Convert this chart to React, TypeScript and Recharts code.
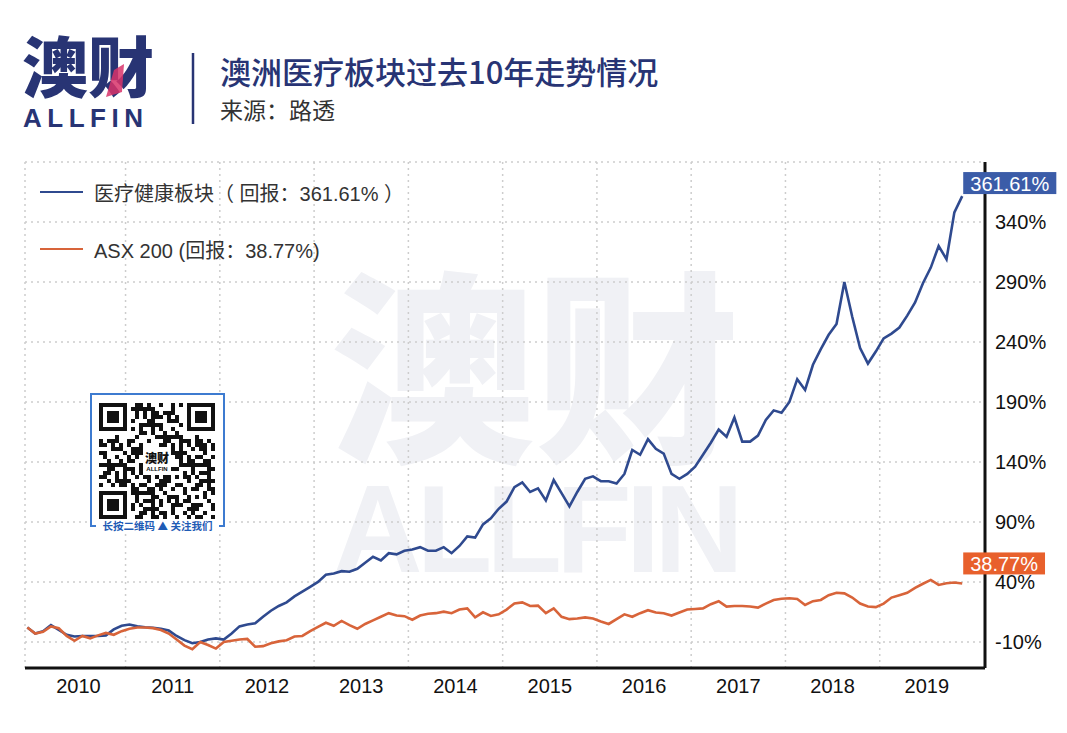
import React from 'react';
import { LineChart, Line, XAxis, YAxis, CartesianGrid, ReferenceLine, LabelList } from 'recharts';

// monthly cumulative return (%), Jan 2010 → Dec 2019
const healthcare = [
  2, -3, -1, 4, 0, -4, -5.5, -5, -5, -5, -4.5, 0.5,
  3.5, 4.5, 3, 2.2, 1.8, 1, -0.5, -5, -8.5, -11, -10, -8,
  -7, -8, -3, 3, 4.5, 5.5, 11, 16, 20, 23, 28, 32,
  36, 40, 46, 47, 49, 48.5, 51, 56, 61, 58, 64, 63,
  66, 67, 69, 66, 66, 69, 64, 70, 78, 77, 88, 93,
  101, 107, 119, 123, 115, 118, 108, 125, 114, 103, 115, 126,
  128, 124, 124, 122, 130, 150, 146, 159, 151, 147, 130, 126,
  130, 136, 146, 156, 167, 161, 177, 157, 157, 162, 175, 183,
  181, 190, 209, 200, 221, 234, 246, 255, 290, 261, 235, 222,
  232, 243, 247, 252, 262, 273, 289, 302, 320, 309, 348, 361.61,
];
const asx200 = [
  2, -3, -1.5, 3, 1.4, -5, -9, -5, -7, -4.5, -2.5, -4,
  -1, 1, 2, 2, 1.5, 0, -3, -8, -13, -16, -10, -12.5,
  -15.5, -10, -9, -8, -7.5, -14, -13.5, -11, -9.5, -8.5, -5.5, -5,
  -1, 2.5, 6, 3.5, 7.5, 4, 1, 5, 8, 11, 14, 12,
  11.5, 8.5, 12, 13.5, 14, 15.3, 14, 17, 18, 10.6, 14.7, 11.7,
  13, 17, 22, 23, 20, 20.3, 14, 18, 11, 9, 9.5, 10.5,
  9.5, 7, 5, 9, 13, 11, 14, 16.5, 14.5, 14, 12, 14.5,
  17, 17.5, 18, 21.5, 24, 19.5, 20, 20, 19.5, 18.6, 22, 25,
  26, 26.4, 25.8, 20.8, 24, 25, 29, 31, 30.5, 27, 22, 19.5,
  19, 22, 27, 29, 31, 35, 38.5, 41.7, 37.5, 39, 39.5, 38.77,
];

const years = ['2010', '2011', '2012', '2013', '2014', '2015', '2016', '2017', '2018', '2019'];
const yearMid = [6.5, 18.5, 30.5, 42.5, 54.5, 66.5, 78.5, 90.5, 102.5, 114.5];
const yearStart = [12.5, 24.5, 36.5, 48.5, 60.5, 72.5, 84.5, 96.5, 108.5];
const yTicks = [-10, 40, 90, 140, 190, 240, 290, 340, 390];

const seriesNames = ['医疗健康板块（ 回报：361.61% ）', 'ASX 200 (回报：38.77%)'];
const endLabels = ['361.61%', '38.77%'];

const data = healthcare.map((v, i) => ({ t: i, hc: v, asx: asx200[i] }));
const last = data.length - 1;

const BLUE = '#2f4a8f';
const ORANGE = '#d8643a';
const NAVY = '#283474';
const FONT = '"Liberation Sans", "Noto Sans CJK SC", sans-serif';
const CJK = '"Noto Sans CJK SC", sans-serif';
const X_MIN = -0.3;

const badge = (color: string, text: string, lift: number) => (p: any) => {
  if (p.index !== last) return null;
  const w = 14 + text.length * 11.3;
  const x = Number(p.x) + 1;
  const y = Number(p.y) - lift;
  return (
    <g>
      <rect x={x} y={y - 11} width={w} height={22} fill={color} />
      <text x={x + w / 2} y={y + 7.5} textAnchor="middle" fill="#fff" fontSize={20} fontFamily={FONT}>
        {text}
      </text>
    </g>
  );
};

const YTick = (p: any) => {
  if (p.payload.value === 390) return null;
  return (
    <text x={p.x} y={p.y} dy="0.36em" fill="#111" fontSize={20} fontFamily={FONT} textAnchor="start">
      {p.payload.value}%
    </text>
  );
};

const QR_N = 29;
const finder = (r: number, c: number) => {
  const inBox = (r0: number, c0: number) => {
    const dr = r - r0, dc = c - c0;
    if (dr < 0 || dr > 6 || dc < 0 || dc > 6) return null;
    if (dr === 0 || dr === 6 || dc === 0 || dc === 6) return true;
    if (dr >= 2 && dr <= 4 && dc >= 2 && dc <= 4) return true;
    return false;
  };
  return inBox(0, 0) ?? inBox(0, QR_N - 7) ?? inBox(QR_N - 7, 0);
};

const QrCode = () => {
  const cells: React.ReactNode[] = [];
  for (let r = 0; r < QR_N; r++) {
    for (let c = 0; c < QR_N; c++) {
      const f = finder(r, c);
      const nearFinder = (r < 8 && c < 8) || (r < 8 && c > QR_N - 9) || (r > QR_N - 9 && c < 8);
      const center = r > 10 && r < 18 && c > 10 && c < 18;
      let on = false;
      if (f !== null) on = f;
      else if (!nearFinder && !center) on = (r * 7 + c * 11 + ((r * c) % 7)) % 3 === 0 || (r + c * 3) % 5 === 0;
      if (on) cells.push(<rect key={r + '-' + c} x={c * 4} y={r * 4} width={4} height={4} fill="#111" />);
    }
  }
  return (
    <svg width={116} height={116} style={{ position: 'absolute', left: 9, top: 10 }}>
      {cells}
      <rect x={44} y={44} width={28} height={28} fill="#fff" rx={3} />
      <text x={58} y={60} textAnchor="middle" fontSize={12} fontWeight={900} fill="#111" fontFamily={CJK}>澳财</text>
      <text x={58} y={68} textAnchor="middle" fontSize={6} fontWeight={700} fill="#111" fontFamily={FONT}>ALLFIN</text>
    </svg>
  );
};

const legendRows = [
  { name: seriesNames[0], color: BLUE, top: 177 },
  { name: seriesNames[1], color: ORANGE, top: 234 },
];

export default function App() {
  return (
    <div style={{ position: 'absolute', left: 0, top: 0, width: 1067, height: 733, background: '#fff', fontFamily: FONT }}>
      <svg width={1067} height={733} style={{ position: 'absolute', left: 0, top: 0 }}>
        <text x={22} y={92} fontSize={66} fontWeight={900} fill={NAVY} fontFamily={CJK}>澳财</text>
        <path d="M114 70 L124 64 L122 92 L106 97 Z" fill="#d8336a" opacity={0.85} />
        <text x={23} y={127} fontSize={26} fontWeight={700} fill={NAVY} letterSpacing={5.5} fontFamily={FONT}>ALLFIN</text>
        <line x1={193} y1={53} x2={193} y2={124} stroke={NAVY} strokeWidth={2.5} />
        <text x={220} y={84} fontSize={31} fontWeight={500} fill={NAVY} fontFamily={CJK}>澳洲医疗板块过去10年走势情况</text>
        <text x={220} y={119} fontSize={23} fill="#333" fontFamily={CJK}>来源：路透</text>
        <text x={330} y={446} fontSize={205} fontWeight={900} fill="#f0f1f5" fontFamily={CJK}>澳财</text>
        <text x={333} y={572} fontSize={124} fontWeight={700} fill="#f0f1f5" letterSpacing={-6} fontFamily={FONT}>ALLFIN</text>
      </svg>

      <LineChart
        width={1067}
        height={733}
        data={data}
        margin={{ top: 162, right: 0, bottom: 25, left: 25 }}
        style={{ position: 'absolute', left: 0, top: 0 }}
      >
        <CartesianGrid vertical={false} stroke="#cdcdcd" strokeDasharray="2 4" strokeWidth={1.5} />
        {[X_MIN, ...yearStart].map((x) => (
          <ReferenceLine key={x} x={x} stroke="#cdcdcd" strokeDasharray="2 4" strokeWidth={1.5} />
        ))}
        <XAxis
          dataKey="t"
          type="number"
          domain={[X_MIN, 121.9]}
          ticks={yearMid}
          tickFormatter={(v: number) => years[yearMid.indexOf(v)]}
          axisLine={{ stroke: '#111', strokeWidth: 3 }}
          tickLine={false}
          tickSize={0}
          tickMargin={11}
          tick={{ fill: '#111', fontSize: 20, fontFamily: FONT }}
          height={40}
          allowDataOverflow
        />
        <YAxis
          orientation="right"
          type="number"
          domain={[-31.7, 390]}
          ticks={yTicks}
          axisLine={{ stroke: '#111', strokeWidth: 3 }}
          tickLine={false}
          tickSize={0}
          tickMargin={10}
          tick={<YTick />}
          width={82}
          allowDataOverflow
        />
        <Line
          type="linear"
          dataKey="hc"
          name={seriesNames[0]}
          stroke={BLUE}
          strokeWidth={2.6}
          dot={false}
          isAnimationActive={false}
        >
          <LabelList dataKey="hc" content={badge('#3b5ca8', endLabels[0], 13)} />
        </Line>
        <Line
          type="linear"
          dataKey="asx"
          name={seriesNames[1]}
          stroke={ORANGE}
          strokeWidth={2.6}
          dot={false}
          isAnimationActive={false}
        >
          <LabelList dataKey="asx" content={badge('#e8602c', endLabels[1], 20)} />
        </Line>
      </LineChart>

      {legendRows.map((r) => (
        <div key={r.name} style={{ position: 'absolute', left: 40, top: r.top, height: 30, display: 'flex', alignItems: 'center' }}>
          <span style={{ width: 43, height: 2.5, background: r.color, marginRight: 11 }} />
          <span style={{ fontSize: 20, color: '#333', whiteSpace: 'nowrap', fontFamily: FONT }}>{r.name}</span>
        </div>
      ))}

      <div style={{ position: 'absolute', left: 90, top: 393, width: 135, height: 139, background: '#fff' }}>
        <div style={{ position: 'absolute', left: 0, top: 0, width: 131, height: 132, borderTop: '2px solid #3d7bd0', borderLeft: '2px solid #3d7bd0', borderRight: '2px solid #3d7bd0' }} />
        <div style={{ position: 'absolute', left: 0, top: 132, width: 6, height: 2, background: '#3d7bd0' }} />
        <div style={{ position: 'absolute', right: 0, top: 132, width: 6, height: 2, background: '#3d7bd0' }} />
        <QrCode />
        <div style={{ position: 'absolute', left: 0, top: 126, width: 135, textAlign: 'center', fontSize: 10.5, fontWeight: 700, color: '#1f5bb5', fontFamily: CJK, whiteSpace: 'nowrap', lineHeight: '14px' }}>
          长按二维码 ▲ 关注我们
        </div>
      </div>
    </div>
  );
}
